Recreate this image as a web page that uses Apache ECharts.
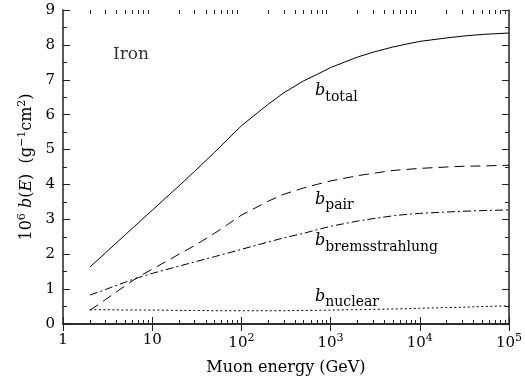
<!DOCTYPE html>
<html><head><meta charset="utf-8">
<script src="https://cdn.jsdelivr.net/npm/echarts/dist/echarts.min.js"></script>
<style>html,body{margin:0;padding:0;background:#fff}#c{width:525px;height:381px}</style>
</head><body><div id="c"></div>
<script>
// Muon energy (GeV)
const energy = [2,3,5,7,10,20,30,50,70,100,200,300,500,700,1000,2000,3000,5000,7000,1e4,2e4,3e4,5e4,7e4,1e5];
const bTotal = [1.63,2.04,2.56,2.9,3.26,3.96,4.38,4.92,5.29,5.68,6.3,6.63,6.97,7.15,7.35,7.65,7.79,7.94,8.02,8.1,8.2,8.25,8.3,8.32,8.34];
const bPair  = [0.39,0.7,1.1,1.35,1.57,2.0,2.25,2.6,2.85,3.12,3.52,3.72,3.9,4.0,4.1,4.25,4.32,4.4,4.43,4.46,4.5,4.52,4.53,4.54,4.55];
const bBrems = [0.83,0.99,1.2,1.33,1.45,1.66,1.78,1.93,2.03,2.14,2.35,2.47,2.6,2.7,2.8,2.95,3.02,3.1,3.14,3.17,3.21,3.23,3.25,3.26,3.27];
const bNucl  = [0.41,0.41,0.40,0.40,0.40,0.39,0.39,0.38,0.38,0.38,0.38,0.38,0.39,0.39,0.40,0.41,0.42,0.43,0.44,0.45,0.47,0.48,0.50,0.51,0.52];
// tick labels
const xTickValues = [1,10,100,1000,10000,100000];
const xTickLabels = ['1','10','10^2','10^3','10^4','10^5'];
// annotation anchors [energy, value]
const labelTotal = [670, 6.68];
const labelPair = [670, 3.57];
const labelBrems = [670, 2.37];
const labelNucl = [670, 0.78];
const labelIron = [3.63, 7.71];

const minorX = [];
for (let d = 1; d < 1e5; d *= 10) for (let k = 2; k <= 9; k++) minorX.push(k * d);

const FF = 'DejaVu Serif';
const ink = '#000';
const axisCol = '#222';

function pairs(ys){ return energy.map((e,i)=>[e, ys[i]]); }

const subRich = {
  b: {fontFamily: FF, fontStyle: 'italic', fontSize: 16, color: ink},
  s: {fontFamily: FF, fontSize: 14, color: ink, padding: [12,0,0,0]}
};
function annot(pos, sub){
  return {
    symbol: 'circle', symbolSize: 0, silent: true,
    data: [{coord: pos, label: {show: true, position: 'right', distance: 0,
      formatter: '{b|b}{s|' + sub + '}', rich: subRich}}]
  };
}

const xLabelRich = {
  n: {fontFamily: FF, fontSize: 15, color: ink},
  s: {fontFamily: FF, fontSize: 11, color: ink, padding: [0,0,9,0]}
};
function xFmt(v){
  const i = xTickValues.findIndex(t => Math.abs(t - v) / t < 1e-6);
  if (i < 0) return '';
  const lab = xTickLabels[i];
  if (lab.indexOf('^') >= 0) { const p = lab.split('^'); return '{n|' + p[0] + '}{s|' + p[1] + '}'; }
  return '{n|' + lab + '}';
}

const baseLog = {type: 'log', logBase: 10, min: 1, max: 1e5, splitLine: {show: false}, gridIndex: 0};

const option = {
  animation: false,
  backgroundColor: '#fff',
  grid: {left: 63, right: 16, top: 10, bottom: 55, containLabel: false},
  xAxis: [
    Object.assign({}, baseLog, {
      position: 'bottom',
      axisLine: {show: true, lineStyle: {color: axisCol, width: 1.5}},
      axisTick: {show: true, inside: true, length: 7, customValues: xTickValues, lineStyle: {color: axisCol, width: 1}},
      axisLabel: {show: true, margin: 9, customValues: xTickValues, formatter: xFmt, rich: xLabelRich},
      name: 'Muon energy (GeV)', nameLocation: 'middle', nameGap: 36,
      nameTextStyle: {fontFamily: FF, fontSize: 16, color: ink}
    }),
    Object.assign({}, baseLog, {
      position: 'top',
      axisLine: {show: true, lineStyle: {color: axisCol, width: 1.5}},
      axisTick: {show: true, inside: true, length: 7, customValues: xTickValues, lineStyle: {color: axisCol, width: 1}},
      axisLabel: {show: false}
    }),
    Object.assign({}, baseLog, {
      position: 'bottom',
      axisLine: {show: false},
      axisTick: {show: true, inside: true, length: 4, customValues: minorX, lineStyle: {color: axisCol, width: 1}},
      axisLabel: {show: false}
    }),
    Object.assign({}, baseLog, {
      position: 'top',
      axisLine: {show: false},
      axisTick: {show: true, inside: true, length: 4, customValues: minorX, lineStyle: {color: axisCol, width: 1}},
      axisLabel: {show: false}
    })
  ],
  yAxis: [
    {
      type: 'value', min: 0, max: 9, interval: 1, position: 'left',
      splitLine: {show: false},
      axisLine: {show: true, lineStyle: {color: axisCol, width: 1.5}},
      axisTick: {show: true, inside: true, length: 7, lineStyle: {color: axisCol, width: 1}},
      minorTick: {show: true, splitNumber: 2, length: 4, lineStyle: {color: axisCol, width: 1}},
      axisLabel: {show: true, margin: 8, fontFamily: FF, fontSize: 15, color: ink},
      name: '{n|10}{p|6}{n| }{i|b}{n|(}{i|E}{n|)  (g}{p|\u22121}{n|cm}{p|2}{n|)}',
      nameLocation: 'middle', nameGap: 25,
      nameTextStyle: {fontFamily: FF, fontSize: 16, color: ink, rich: {
        n: {fontFamily: FF, fontSize: 16, color: ink},
        i: {fontFamily: FF, fontSize: 16, fontStyle: 'italic', color: ink},
        p: {fontFamily: FF, fontSize: 11, color: ink, padding: [0,0,9,0]}
      }}
    },
    {
      type: 'value', min: 0, max: 9, interval: 1, position: 'right',
      splitLine: {show: false},
      axisLine: {show: true, lineStyle: {color: axisCol, width: 1.5}},
      axisTick: {show: true, inside: true, length: 7, lineStyle: {color: axisCol, width: 1}},
      minorTick: {show: true, splitNumber: 2, length: 4, lineStyle: {color: axisCol, width: 1}},
      axisLabel: {show: false}
    }
  ],
  series: [
    {name: 'total', type: 'line', data: pairs(bTotal), showSymbol: false, symbol: 'none',
     lineStyle: {color: ink, width: 1, type: 'solid'}, markPoint: annot(labelTotal, 'total')},
    {name: 'pair', type: 'line', data: pairs(bPair), showSymbol: false, symbol: 'none',
     lineStyle: {color: ink, width: 1, type: [10,6]}, markPoint: annot(labelPair, 'pair')},
    {name: 'brems', type: 'line', data: pairs(bBrems), showSymbol: false, symbol: 'none',
     lineStyle: {color: ink, width: 1, type: [8,3,2,3]}, markPoint: annot(labelBrems, 'bremsstrahlung')},
    {name: 'nuclear', type: 'line', data: pairs(bNucl), showSymbol: false, symbol: 'none',
     lineStyle: {color: ink, width: 1, type: [2,2.5]}, markPoint: annot(labelNucl, 'nuclear')},
    {name: 'iron', type: 'scatter', data: [labelIron], symbolSize: 0, silent: true,
     label: {show: true, position: 'right', distance: 0, formatter: 'Iron', fontFamily: FF, fontSize: 17, color: ink}}
  ]
};
const chart = echarts.init(document.getElementById('c'), null, {renderer: 'canvas'});
chart.setOption(option);
</script></body></html>
